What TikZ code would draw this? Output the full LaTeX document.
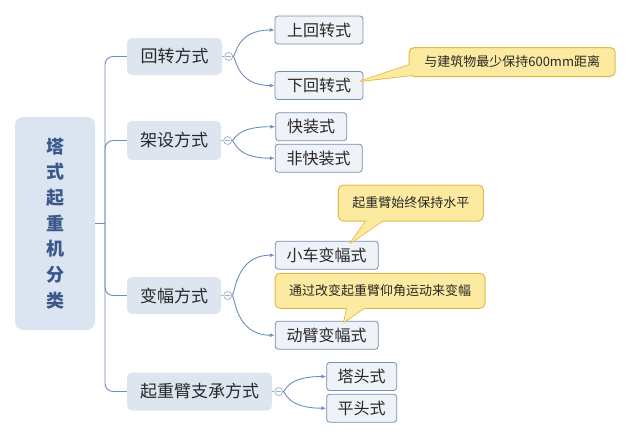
\documentclass[tikz,border=0pt]{standalone}
\usepackage{fontspec}
\setmainfont{Noto Sans CJK SC}
\usetikzlibrary{arrows.meta,calc}
\definecolor{rootfill}{RGB}{219,229,241}
\definecolor{roottext}{RGB}{58,88,138}
\definecolor{lonefill}{RGB}{220,229,240}
\definecolor{ltwofill}{RGB}{239,242,247}
\definecolor{ltwoborder}{RGB}{118,142,178}
\definecolor{conncol}{RGB}{110,140,188}
\definecolor{foldcol}{RGB}{160,175,200}
\definecolor{cofill}{RGB}{252,234,160}
\definecolor{coborder}{RGB}{232,182,72}
\definecolor{txt}{RGB}{40,40,40}
\begin{document}
\begin{tikzpicture}[x=1pt,y=-1pt,
  rootbox/.style={fill=rootfill, rounded corners=8pt, minimum width=80pt, minimum height=213pt, inner sep=0pt, font=\fontsize{18}{25.7}\selectfont\bfseries, text=roottext, align=center},
  lone/.style={fill=lonefill, rounded corners=5pt, inner sep=0pt, minimum height=37pt, font=\fontsize{17}{20}\selectfont, text=txt},
  ltwo/.style={fill=ltwofill, draw=ltwoborder, line width=0.8pt, rounded corners=3pt, inner sep=0pt, minimum height=28pt, font=\fontsize{16}{19}\selectfont, text=txt},
  callout/.style={fill=cofill, draw=coborder, line width=1pt, rounded corners=5pt, inner sep=0pt, font=\fontsize{13}{16}\selectfont, text=txt},
  tailline/.style={fill=cofill, draw=coborder, line width=1.6pt, line join=round},
  tailfill/.style={fill=cofill},
  conn/.style={draw=conncol, line width=0.9pt},
  arr/.style={conn, -{Latex[length=5pt,width=4pt]}},
  fold/.style={circle, draw=foldcol, fill=white, minimum size=8pt, inner sep=0pt, line width=0.7pt,
    path picture={\draw[foldcol,line width=0.6pt] ([xshift=-2.3pt]path picture bounding box.center) -- ([xshift=2.3pt]path picture bounding box.center);}}
]
\useasboundingbox (0,0) rectangle (631,439);

% root
\node[rootbox] (root) at (55,223.5) {塔\\式\\起\\重\\机\\分\\类};

% level 1
\node[lone, minimum width=95pt] (la) at (174.5,56.5) {回转方式};
\node[lone, minimum width=94pt, minimum height=39pt] (lb) at (174,140.5) {架设方式};
\node[lone, minimum width=94pt] (lc) at (174,295.5) {变幅方式};
\node[lone, minimum width=145pt, minimum height=38pt] (ld) at (199.5,391.5) {起重臂支承方式};

% trunk
\coordinate (tr) at (105,223.5);
\draw[conn] (root.east) -- (tr);
\draw[conn, rounded corners=8pt] (tr) |- (la.west);
\draw[conn, rounded corners=8pt] (tr) |- (lb.west);
\draw[conn, rounded corners=8pt] (tr) |- (lc.west);
\draw[conn, rounded corners=8pt] (tr) |- (ld.west);

% fold circles
\node[fold] (fa) at ($(la.east)+(6.5,0)$) {};
\node[fold] (fb) at ($(lb.east)+(6.5,0)$) {};
\node[fold] (fc) at ($(lc.east)+(6.5,0)$) {};
\node[fold] (fd) at ($(ld.east)+(6.5,0)$) {};
\draw[conn, line width=0.6pt, draw=foldcol] (la.east) -- (fa.west);
\draw[conn, line width=0.6pt, draw=foldcol] (lb.east) -- (fb.west);
\draw[conn, line width=0.6pt, draw=foldcol] (lc.east) -- (fc.west);
\draw[conn, line width=0.6pt, draw=foldcol] (ld.east) -- (fd.west);

% level 2
\node[ltwo, minimum width=88pt] (a1) at (319,30) {上回转式};
\node[ltwo, minimum width=88pt] (a2) at (319,85.5) {下回转式};
\node[ltwo, minimum width=71pt] (b1) at (311.2,126.7) {快装式};
\node[ltwo, minimum width=87pt] (b2) at (318.7,158.2) {非快装式};
\node[ltwo, minimum width=103pt] (c1) at (326.7,255.2) {小车变幅式};
\node[ltwo, minimum width=103pt] (c2) at (326.7,335.2) {动臂变幅式};
\node[ltwo, minimum width=70pt] (d1) at (361.7,376.5) {塔头式};
\node[ltwo, minimum width=70pt] (d2) at (361.7,408.2) {平头式};

% level-2 connectors
\foreach \f/\t in {fa/a1,fa/a2,fb/b1,fb/b2,fc/c1,fc/c2,fd/d1,fd/d2}{
  \draw[arr] (\f.east) .. controls ($(\f.east)+(3,0)$) and ($(\f.east|-\t.west)+(3,0)$) .. (\t.west);
}

% callout 1
\coordinate (t1) at (361,81);
\coordinate (p1) at (409.3,65);
\coordinate (q1) at (409.3,75.5);
\filldraw[tailline] (t1) -- ($(t1)!1.12!(p1)$) -- ($(t1)!1.12!(q1)$) -- cycle;
\node[callout, minimum width=206pt, minimum height=29pt] (k1) at (512.2,62) {与建筑物最少保持600mm距离};
\fill[tailfill] (t1) -- ($(t1)!1.12!(p1)$) -- ($(t1)!1.12!(q1)$) -- cycle;

% callout 2
\coordinate (t2) at (350.5,243);
\coordinate (p2) at (366,221);
\coordinate (q2) at (382,221);
\filldraw[tailline] (t2) -- ($(t2)!1.15!(p2)$) -- ($(t2)!1.15!(q2)$) -- cycle;
\node[callout, minimum width=145pt, minimum height=36pt] (k2) at (410.8,203) {起重臂始终保持水平};
\fill[tailfill] (t2) -- ($(t2)!1.15!(p2)$) -- ($(t2)!1.15!(q2)$) -- cycle;

% callout 3
\coordinate (t3) at (344,322);
\coordinate (p3) at (347,308.3);
\coordinate (q3) at (363.5,308.3);
\filldraw[tailline] (t3) -- ($(t3)!1.25!(p3)$) -- ($(t3)!1.25!(q3)$) -- cycle;
\node[callout, minimum width=210pt, minimum height=35pt] (k3) at (380,290.8) {通过改变起重臂仰角运动来变幅};
\fill[tailfill] (t3) -- ($(t3)!1.25!(p3)$) -- ($(t3)!1.25!(q3)$) -- cycle;
\end{tikzpicture}
\end{document}
